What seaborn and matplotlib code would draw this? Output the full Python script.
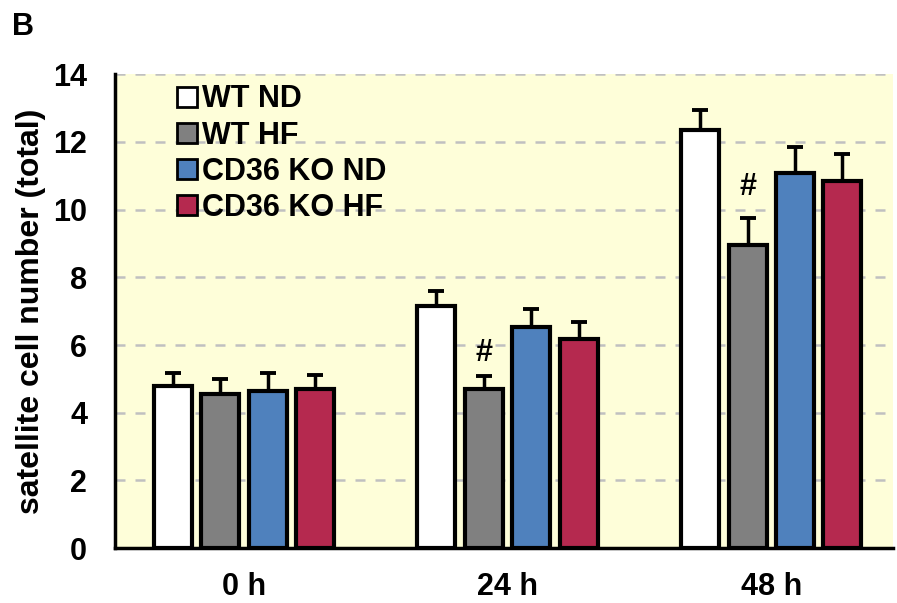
import numpy as np
import pandas as pd
import matplotlib
matplotlib.use("Agg")
import matplotlib.pyplot as plt
import seaborn as sns
from matplotlib.patches import Patch

# ──────────────────────────────────────────────
# Data
# ──────────────────────────────────────────────
time_points = ["0 h", "24 h", "48 h"]
groups = ["WT ND", "WT HF", "CD36 KO ND", "CD36 KO HF"]

wt_nd = [4.78, 7.14, 12.35]
wt_hf = [4.55, 4.69, 8.96]
ko_nd = [4.64, 6.52, 11.08]
ko_hf = [4.70, 6.19, 10.85]

wt_nd_err = [0.40, 0.45, 0.60]
wt_hf_err = [0.44, 0.38, 0.78]
ko_nd_err = [0.52, 0.55, 0.78]
ko_hf_err = [0.40, 0.48, 0.78]

# "#" marks: (time point, group, label height)
hash_marks = [("24 h", "WT HF", 5.75), ("48 h", "WT HF", 10.68)]

palette = {"WT ND": "#FFFFFF", "WT HF": "#808080",
           "CD36 KO ND": "#4F81BD", "CD36 KO HF": "#B5294F"}

df = pd.DataFrame({
    "time": time_points * 4,
    "group": np.repeat(groups, 3),
    "value": wt_nd + wt_hf + ko_nd + ko_hf,
    "err": wt_nd_err + wt_hf_err + ko_nd_err + ko_hf_err,
})

# ──────────────────────────────────────────────
# Plot
# ──────────────────────────────────────────────
sns.set_style("white")
plt.rcParams["font.family"] = ["Liberation Sans", "DejaVu Sans"]
plt.rcParams["font.weight"] = "bold"
plt.rcParams["text.color"] = "black"
plt.rcParams["xtick.color"] = "black"
plt.rcParams["ytick.color"] = "black"
plt.rcParams["axes.labelcolor"] = "black"

fig = plt.figure(figsize=(8.97, 6.03), dpi=100)
ax = fig.add_axes([0.128, 0.091, 0.867, 0.786])
ax.set_facecolor("#FEFED9")

sns.barplot(data=df, x="time", y="value", hue="group", order=time_points,
            hue_order=groups, palette=palette, saturation=1, width=0.72, gap=0.2,
            edgecolor="black", linewidth=3, errorbar=None, legend=False,
            ax=ax, zorder=3)

# upper-only error bars, taken from the bar patches
for bars, g in zip(ax.containers, groups):
    sub = df[df["group"] == g].set_index("time").loc[time_points]
    xs = [b.get_x() + b.get_width() / 2 for b in bars]
    ax.errorbar(xs, sub["value"], yerr=[np.zeros(3), sub["err"]], fmt="none",
                ecolor="black", elinewidth=2.5, capsize=6, capthick=2.8, zorder=2)

for t, g, y in hash_marks:
    bar = ax.containers[groups.index(g)][time_points.index(t)]
    ax.text(bar.get_x() + bar.get_width() / 2, y, "#", ha="center", va="center",
            fontsize=22, fontweight="bold")

ax.set_ylim(0, 14)
ax.set_xlim(-0.49, 2.46)
ax.set_yticks(np.arange(0, 15, 2))
ax.yaxis.grid(True, linestyle=(0, (4, 4)), color="#C0C0C0", linewidth=1.8, zorder=0)
ax.set_axisbelow(True)
for s in ["top", "right"]:
    ax.spines[s].set_visible(False)
for s in ["left", "bottom"]:
    ax.spines[s].set_linewidth(2.5)
    ax.spines[s].set_color("black")
ax.spines["left"].set_zorder(5)

ax.tick_params(axis="both", length=0, labelsize=22)
ax.tick_params(axis="y", pad=20)
ax.tick_params(axis="x", pad=17)
for lab in ax.get_xticklabels() + ax.get_yticklabels():
    lab.set_fontweight("bold")
ax.set_xlabel("")
ax.set_ylabel("satellite cell number (total)", fontsize=23, fontweight="bold", labelpad=5)

handles = [Patch(facecolor=palette[g], edgecolor="black", linewidth=2) for g in groups]
leg = ax.legend(handles, groups, loc="upper left", bbox_to_anchor=(0.057, 1.017),
                frameon=False, fontsize=22, handlelength=0.65, handleheight=0.65,
                handletextpad=0.15, labelspacing=0.2, borderaxespad=0.2)
for txt in leg.get_texts():
    txt.set_fontweight("bold")

fig.text(0.013, 0.955, "B", fontsize=22, fontweight="bold", va="center")

fig.savefig("out.png", dpi=100)
